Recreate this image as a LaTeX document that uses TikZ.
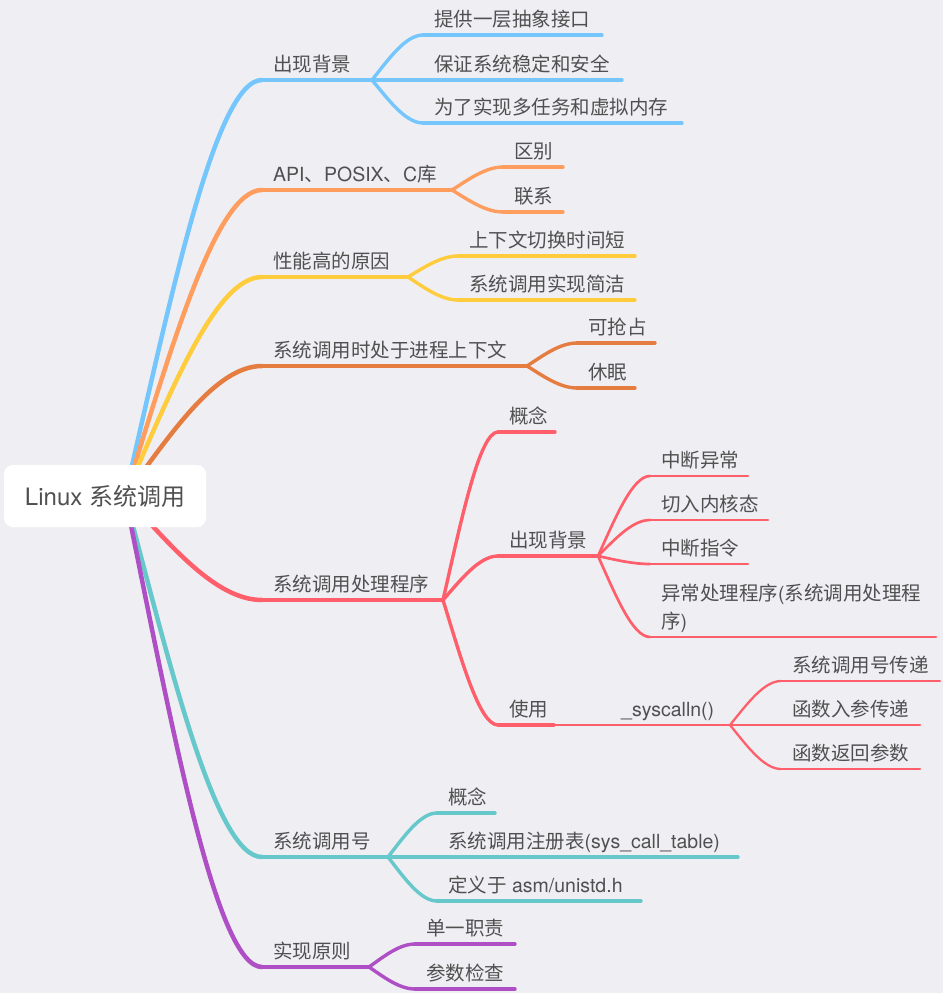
\documentclass[tikz,border=0pt]{standalone}
\usepackage{fontspec}
\setmainfont{Noto Sans CJK SC}
\newfontfamily\latf{TeX Gyre Heros}
\newcommand{\LF}[1]{{\latf #1}}
\usetikzlibrary{calc}
\definecolor{bgc}{HTML}{EFEFF3}
\definecolor{txc}{HTML}{505050}
\definecolor{cblue}{HTML}{74C6FD}
\definecolor{corange}{HTML}{FF9D5E}
\definecolor{cyellow}{HTML}{FFCC3D}
\definecolor{cdorange}{HTML}{E67D40}
\definecolor{cred}{HTML}{FF5F6B}
\definecolor{cteal}{HTML}{66C8CB}
\definecolor{cpurple}{HTML}{AE4FC5}
\tikzset{
  lone/.style={line width=4.5pt, line cap=round},
  ltwo/.style={line width=3.4pt, line cap=round},
  lthree/.style={line width=2.7pt, line cap=round},
  lfour/.style={line width=2.3pt, line cap=round},
  txt/.style={anchor=base west, inner sep=0pt, text=txc, font=\fontsize{19.5}{28}\selectfont},
  rootbox/.style={fill=white, rounded corners=9pt, minimum width=202pt, minimum height=62pt, inner sep=0pt, text=txc, font=\fontsize{24}{28}\selectfont},
}
\newcommand{\topicline}[6]{%
  \coordinate (#1s) at (#2,#3);
  \coordinate (#1e) at (#4,#3);
  \draw[#5] (#1s) -- (#1e);
  \node[txt] (#1t) at ([xshift=11pt,yshift=9pt]#1s) {#6};}
\newcommand{\conn}[3]{%
  \draw[#3] (#1) let \p1=(#1), \p2=(#2) in
    .. controls ({\x1+0.33*(\x2-\x1)},{\y1+0.47*(\y2-\y1)}) and ({\x1+0.66*(\x2-\x1)},{\y2}) .. (\p2);}
\begin{document}
\begin{tikzpicture}[x=1pt,y=-1pt]
\fill[bgc] (0,0) rectangle (943,993);
\useasboundingbox (0,0) rectangle (943,993);
\coordinate (r0) at (125,496);
% level 1
\topicline{A}{262}{80}{372}{lone,cblue}{出现背景}
\topicline{B}{262}{190}{452}{lone,corange}{\LF{API}、\LF{POSIX}、\LF{C}库}
\topicline{C}{262}{277}{408}{lone,cyellow}{性能高的原因}
\topicline{D}{262}{366}{527}{lone,cdorange}{系统调用时处于进程上下文}
\topicline{E}{262}{600}{443}{lone,cred}{系统调用处理程序}
\topicline{F}{262}{857}{388}{lone,cteal}{系统调用号}
\topicline{G}{262}{967}{369}{lone,cpurple}{实现原则}
\conn{r0}{As}{lone,cblue}
\conn{r0}{Bs}{lone,corange}
\conn{r0}{Cs}{lone,cyellow}
\conn{r0}{Ds}{lone,cdorange}
\conn{r0}{Es}{lone,cred}
\conn{r0}{Fs}{lone,cteal}
\conn{r0}{Gs}{lone,cpurple}
% level 2
\topicline{A1}{423}{35}{602}{ltwo,cblue}{提供一层抽象接口}
\topicline{A2}{423}{80}{622}{ltwo,cblue}{保证系统稳定和安全}
\topicline{A3}{423}{123}{682}{ltwo,cblue}{为了实现多任务和虚拟内存}
\conn{Ae}{A1s}{ltwo,cblue}
\conn{Ae}{A2s}{ltwo,cblue}
\conn{Ae}{A3s}{ltwo,cblue}
\topicline{B1}{503}{167}{563}{ltwo,corange}{区别}
\topicline{B2}{503}{212}{563}{ltwo,corange}{联系}
\conn{Be}{B1s}{ltwo,corange}
\conn{Be}{B2s}{ltwo,corange}
\topicline{C1}{458}{256}{635}{ltwo,cyellow}{上下文切换时间短}
\topicline{C2}{458}{300}{635}{ltwo,cyellow}{系统调用实现简洁}
\conn{Ce}{C1s}{ltwo,cyellow}
\conn{Ce}{C2s}{ltwo,cyellow}
\topicline{D1}{577}{343}{655}{ltwo,cdorange}{可抢占}
\topicline{D2}{577}{388}{635}{ltwo,cdorange}{休眠}
\conn{De}{D1s}{ltwo,cdorange}
\conn{De}{D2s}{ltwo,cdorange}
\topicline{E1}{498}{432}{555}{ltwo,cred}{概念}
\topicline{E2}{498}{556}{598}{ltwo,cred}{出现背景}
\topicline{E3}{498}{725}{554}{ltwo,cred}{使用}
\conn{Ee}{E1s}{ltwo,cred}
\conn{Ee}{E2s}{ltwo,cred}
\conn{Ee}{E3s}{ltwo,cred}
\topicline{F1}{437}{813}{495}{ltwo,cteal}{概念}
\topicline{F2}{437}{857}{738}{ltwo,cteal}{系统调用注册表\LF{(sys\_call\_table)}}
\topicline{F3}{437}{901}{641}{ltwo,cteal}{定义于\LF{ asm/unistd.h}}
\conn{Fe}{F1s}{ltwo,cteal}
\conn{Fe}{F2s}{ltwo,cteal}
\conn{Fe}{F3s}{ltwo,cteal}
\topicline{G1}{415}{944}{515}{ltwo,cpurple}{单一职责}
\topicline{G2}{415}{989}{515}{ltwo,cpurple}{参数检查}
\conn{Ge}{G1s}{ltwo,cpurple}
\conn{Ge}{G2s}{ltwo,cpurple}
% level 3
\topicline{E21}{650}{476}{748}{lthree,cred}{中断异常}
\topicline{E22}{650}{520}{768}{lthree,cred}{切入内核态}
\topicline{E23}{650}{564}{748}{lthree,cred}{中断指令}
\coordinate (E24s) at (650,637);
\coordinate (E24e) at (936,637);
\draw[lthree,cred] (E24s) -- (E24e);
\node[txt, align=left] (E24t) at ([xshift=11pt,yshift=9pt]E24s) {异常处理程序\LF{(}系统调用处理程\\序\LF{)}};
\conn{E2e}{E21s}{lthree,cred}
\conn{E2e}{E22s}{lthree,cred}
\conn{E2e}{E23s}{lthree,cred}
\conn{E2e}{E24s}{lthree,cred}
\coordinate (E31s) at (554,725);
\coordinate (E31e) at (730,725);
\draw[lthree,cred] (E3e) -- (E31s) -- (E31e);
\node[txt] (E31t) at ([xshift=67pt,yshift=9pt]E31s) {\LF{\_syscalln()}};
% level 4
\topicline{E311}{781}{681}{940}{lfour,cred}{系统调用号传递}
\topicline{E312}{781}{725}{920}{lfour,cred}{函数入参传递}
\topicline{E313}{781}{769}{920}{lfour,cred}{函数返回参数}
\conn{E31e}{E311s}{lfour,cred}
\conn{E31e}{E312s}{lfour,cred}
\conn{E31e}{E313s}{lfour,cred}
% root
\node[rootbox] (root) at (105,496) {\LF{Linux }系统调用};
\end{tikzpicture}
\end{document}
